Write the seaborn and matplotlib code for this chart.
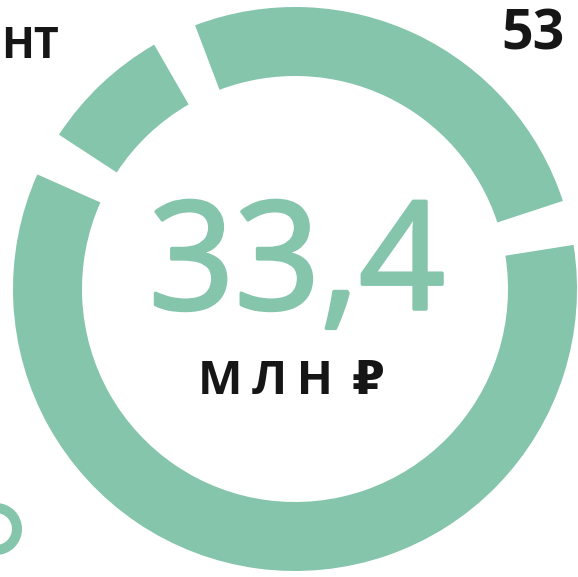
# Import necessary libraries
import matplotlib
matplotlib.use('Agg')
import matplotlib.pyplot as plt
import matplotlib.patheffects as pe
import seaborn as sns
from matplotlib.patches import Circle

# Chart data (million rubles)
segment_names = ['top', 'small', 'main']
segment_values = [9.3, 2.7, 21.4]
total_label = '33,4'
unit_label = 'М\u2009Л\u2009Н\u2009\u2009₽'
cut_left_label = 'НТ'
cut_right_label = '53'

# Style
TEAL = '#84c5ab'
INK = '#161616'
sns.set_theme(style='white')
plt.rcParams['font.family'] = ['Open Sans', 'DejaVu Sans']

W, H = 578, 577
fig = plt.figure(figsize=(W / 100, H / 100), dpi=100)
ax = fig.add_axes([0, 0, 1, 1])

# Donut with white gaps between the segments
gap_deg = 9.2
gap_value = gap_deg / (360 - gap_deg * len(segment_values)) * sum(segment_values)
values, colors = [], []
for v in segment_values:
    values += [v, gap_value]
    colors += [TEAL, 'none']

ax.pie(values, colors=colors, radius=282, center=(295, 288),
       startangle=18.2, counterclock=True,
       wedgeprops=dict(width=69, linewidth=0))

# Centre labels (regular weight, slightly thickened)
ax.text(297, 268, total_label, color=TEAL, fontsize=108,
        ha='center', va='baseline',
        path_effects=[pe.withStroke(linewidth=2.5, foreground=TEAL)])
ax.text(291, 183, unit_label, color=INK, fontsize=34, fontweight='bold',
        ha='center', va='baseline')

# Labels cut off by the crop
ax.text(1, 519, cut_left_label, color=INK, fontsize=31, fontweight='bold',
        ha='left', va='baseline')
ax.text(501, 527, cut_right_label, color=INK, fontsize=40, fontweight='bold',
        ha='left', va='baseline')

# Legend marker peeking in at bottom-left
ax.add_patch(Circle((-4, 48), 21, fill=False, edgecolor=TEAL, linewidth=7.2))

ax.set_xlim(0, W)
ax.set_ylim(0, H)
ax.set_aspect('equal')
ax.axis('off')

fig.savefig('out.png', dpi=100, facecolor='white')
